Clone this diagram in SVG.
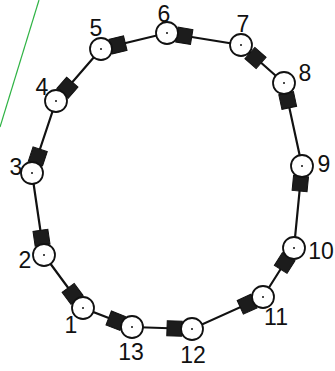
<svg xmlns="http://www.w3.org/2000/svg" width="335" height="371" viewBox="0 0 335 371">
<style>
.edge{stroke:#111;stroke-width:2.2;fill:none}
.node circle.c{fill:#fff;stroke:#111;stroke-width:1.8}
.node circle.d{fill:#111}
.sq{fill:#1c1c1c;stroke:#111;stroke-width:1}
.lbl{font-family:"Liberation Sans",Arial,sans-serif;font-size:23px;fill:#111;text-anchor:middle}
</style>
<rect width="335" height="371" fill="#fff"/>
<line x1="39" y1="0" x2="0" y2="127" stroke="#2fb344" stroke-width="1.2"/>
<g id="connectors">
<polygon class="edge" points="83,308 44,255 32,173 56,101 101,49 167,33 241,45 284,83 302,166 294,248 263,297 192,329 132,327"/>
<rect class="sq" x="-7.5" y="-7.5" width="15" height="15" transform="translate(72.6,293.9) rotate(-126.3)"/>
<rect class="sq" x="-7.5" y="-7.5" width="15" height="15" transform="translate(41.5,237.7) rotate(-98.3)"/>
<rect class="sq" x="-7.5" y="-7.5" width="15" height="15" transform="translate(37.8,156.4) rotate(-71.6)"/>
<rect class="sq" x="-7.5" y="-7.5" width="15" height="15" transform="translate(67.4,87.8) rotate(-49.1)"/>
<rect class="sq" x="-7.5" y="-7.5" width="15" height="15" transform="translate(118,44.9) rotate(-13.6)"/>
<rect class="sq" x="-7.5" y="-7.5" width="15" height="15" transform="translate(184.3,35.8) rotate(9.2)"/>
<rect class="sq" x="-7.5" y="-7.5" width="15" height="15" transform="translate(255.5,58) rotate(41.5)"/>
<rect class="sq" x="-7.5" y="-7.5" width="15" height="15" transform="translate(287.7,100.5) rotate(77.8)"/>
<rect class="sq" x="-7.5" y="-7.5" width="15" height="15" transform="translate(300.3,183.6) rotate(95.6)"/>
<rect class="sq" x="-7.5" y="-7.5" width="15" height="15" transform="translate(284.7,263) rotate(122.3)"/>
<rect class="sq" x="-7.5" y="-7.5" width="15" height="15" transform="translate(247.1,304.2) rotate(155.7)"/>
<rect class="sq" x="-7.5" y="-7.5" width="15" height="15" transform="translate(174.5,328.4) rotate(181.9)"/>
<rect class="sq" x="-7.5" y="-7.5" width="15" height="15" transform="translate(115.7,320.7) rotate(201.2)"/>
</g>
<g id="n1" class="node"><circle class="c" cx="83" cy="308" r="11"/><circle class="d" cx="83" cy="308" r="1"/><text class="lbl" x="71" y="333">1</text></g>
<g id="n2" class="node"><circle class="c" cx="44" cy="255" r="11"/><circle class="d" cx="44" cy="255" r="1"/><text class="lbl" x="25" y="268">2</text></g>
<g id="n3" class="node"><circle class="c" cx="32" cy="173" r="11"/><circle class="d" cx="32" cy="173" r="1"/><text class="lbl" x="16" y="175">3</text></g>
<g id="n4" class="node"><circle class="c" cx="56" cy="101" r="11"/><circle class="d" cx="56" cy="101" r="1"/><text class="lbl" x="42" y="95">4</text></g>
<g id="n5" class="node"><circle class="c" cx="101" cy="49" r="11"/><circle class="d" cx="101" cy="49" r="1"/><text class="lbl" x="96" y="36">5</text></g>
<g id="n6" class="node"><circle class="c" cx="167" cy="33" r="11"/><circle class="d" cx="167" cy="33" r="1"/><text class="lbl" x="164" y="22">6</text></g>
<g id="n7" class="node"><circle class="c" cx="241" cy="45" r="11"/><circle class="d" cx="241" cy="45" r="1"/><text class="lbl" x="243" y="32">7</text></g>
<g id="n8" class="node"><circle class="c" cx="284" cy="83" r="11"/><circle class="d" cx="284" cy="83" r="1"/><text class="lbl" x="305" y="81">8</text></g>
<g id="n9" class="node"><circle class="c" cx="302" cy="166" r="11"/><circle class="d" cx="302" cy="166" r="1"/><text class="lbl" x="324" y="172">9</text></g>
<g id="n10" class="node"><circle class="c" cx="294" cy="248" r="11"/><circle class="d" cx="294" cy="248" r="1"/><text class="lbl" x="321" y="259">10</text></g>
<g id="n11" class="node"><circle class="c" cx="263" cy="297" r="11"/><circle class="d" cx="263" cy="297" r="1"/><text class="lbl" x="276" y="325">11</text></g>
<g id="n12" class="node"><circle class="c" cx="192" cy="329" r="11"/><circle class="d" cx="192" cy="329" r="1"/><text class="lbl" x="193" y="363">12</text></g>
<g id="n13" class="node"><circle class="c" cx="132" cy="327" r="11"/><circle class="d" cx="132" cy="327" r="1"/><text class="lbl" x="131" y="360">13</text></g>
</svg>
